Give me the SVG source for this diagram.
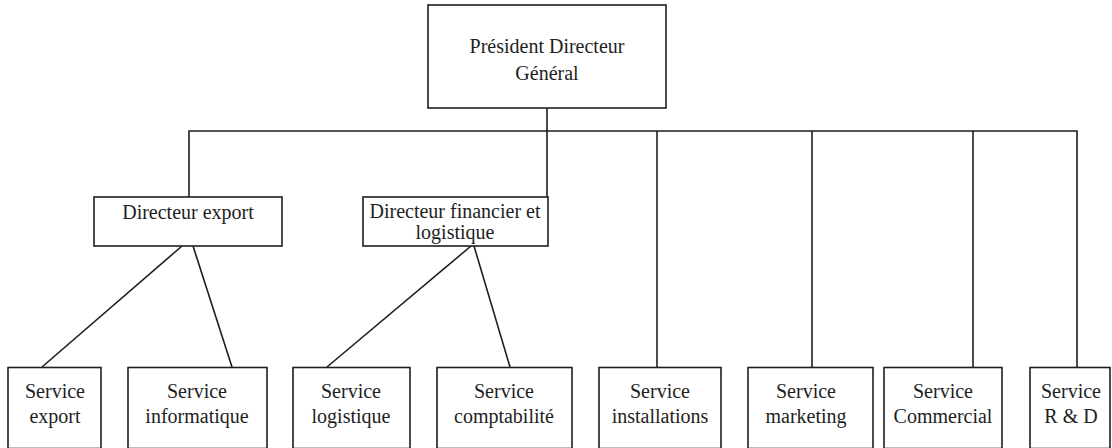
<svg xmlns="http://www.w3.org/2000/svg" width="1112" height="448" viewBox="0 0 1112 448">
<style>
.box{fill:#fff;stroke:#1e1e1e;stroke-width:1.6}
.ln{fill:none;stroke:#1e1e1e;stroke-width:1.6}
text{font-family:"Liberation Serif","Times New Roman",serif;font-size:20px;fill:#1e1e1e;text-anchor:middle}
</style>
<rect width="1112" height="448" fill="#fff"/>
<g id="connectors">
<line class="ln" x1="547" y1="108" x2="547" y2="197"/>
<polyline class="ln" points="189,197 189,131 1077,131 1077,367"/>
<line class="ln" x1="657" y1="131" x2="657" y2="367"/>
<line class="ln" x1="812" y1="131" x2="812" y2="367"/>
<line class="ln" x1="973" y1="131" x2="973" y2="367"/>
<line class="ln" x1="182" y1="246" x2="42" y2="367"/>
<line class="ln" x1="193" y1="246" x2="232" y2="367"/>
<line class="ln" x1="471" y1="246" x2="327" y2="367"/>
<line class="ln" x1="474" y1="246" x2="510" y2="367"/>
</g>
<g id="pdg">
<rect class="box" x="428" y="5" width="238" height="103"/>
<text x="547" y="53">Président Directeur</text>
<text x="547" y="80">Général</text>
</g>
<g id="dir-export">
<rect class="box" x="94" y="197" width="188" height="49"/>
<text x="188" y="219">Directeur export</text>
</g>
<g id="dir-financier">
<rect class="box" x="363" y="197" width="185" height="49"/>
<text x="455" y="218">Directeur financier et</text>
<text x="455" y="239">logistique</text>
</g>
<g id="svc-export">
<rect class="box" x="8" y="367.5" width="93" height="81"/>
<text x="55" y="398">Service</text>
<text x="55" y="423">export</text>
</g>
<g id="svc-informatique">
<rect class="box" x="128" y="367.5" width="139" height="81"/>
<text x="197" y="398">Service</text>
<text x="197" y="423">informatique</text>
</g>
<g id="svc-logistique">
<rect class="box" x="293" y="367.5" width="117" height="81"/>
<text x="351" y="398">Service</text>
<text x="351" y="423">logistique</text>
</g>
<g id="svc-comptabilite">
<rect class="box" x="437" y="367.5" width="135" height="81"/>
<text x="504" y="398">Service</text>
<text x="504" y="423">comptabilité</text>
</g>
<g id="svc-installations">
<rect class="box" x="599" y="367.5" width="122" height="81"/>
<text x="660" y="398">Service</text>
<text x="660" y="423">installations</text>
</g>
<g id="svc-marketing">
<rect class="box" x="748" y="367.5" width="125" height="81"/>
<text x="806" y="398">Service</text>
<text x="806" y="423">marketing</text>
</g>
<g id="svc-commercial">
<rect class="box" x="884" y="367.5" width="118" height="81"/>
<text x="943" y="398">Service</text>
<text x="943" y="423">Commercial</text>
</g>
<g id="svc-rd">
<rect class="box" x="1030" y="367.5" width="80" height="81"/>
<text x="1071" y="398">Service</text>
<text x="1071" y="423">R &amp; D</text>
</g>
</svg>
